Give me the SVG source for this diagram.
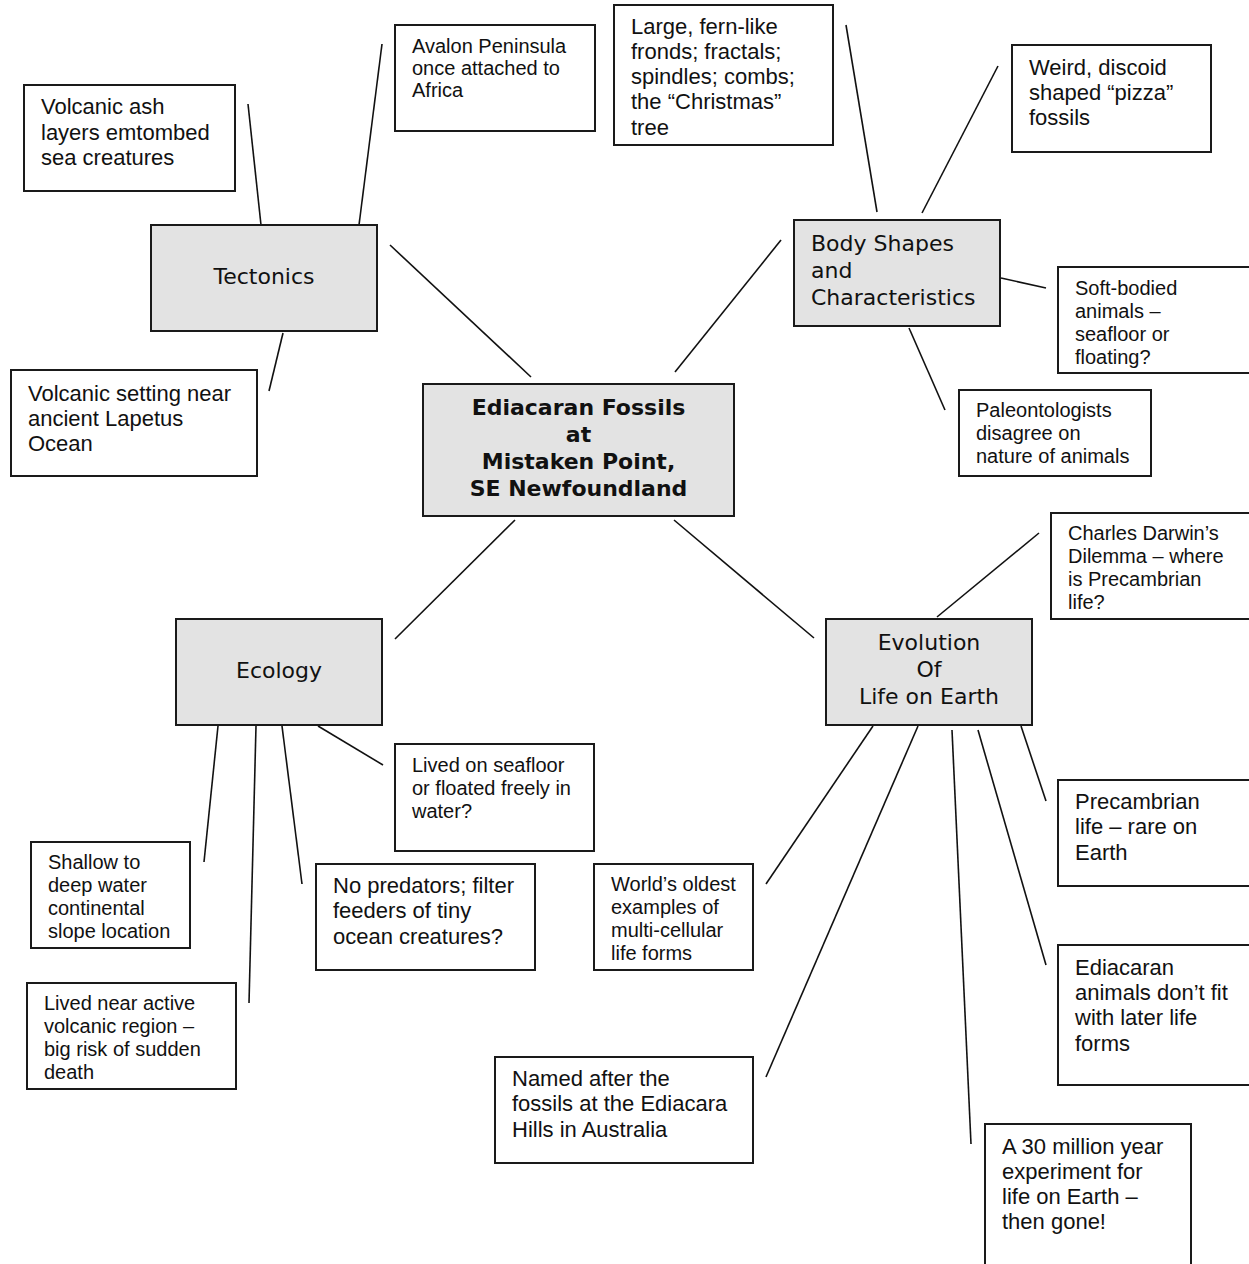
<svg xmlns="http://www.w3.org/2000/svg" width="1249" height="1264" viewBox="0 0 1249 1264">
<style>
.hub{fill:#e3e3e3;stroke:#1a1a1a;stroke-width:2}
.leaf{fill:#fff;stroke:#1a1a1a;stroke-width:2}
.ht{font-family:"DejaVu Sans",Verdana,sans-serif;font-size:22px;fill:#111}
.ct{font-family:"DejaVu Sans",Verdana,sans-serif;font-size:22px;font-weight:bold;fill:#111;text-anchor:middle}
.l20{font-family:"Liberation Sans",Arial,sans-serif;font-size:22px;fill:#111}
.l18{font-family:"Liberation Sans",Arial,sans-serif;font-size:20px;fill:#111}
.c{stroke:#111;stroke-width:1.6;fill:none}
</style>
<rect width="1249" height="1264" fill="#fff"/>
<g id="connectors">
<line class="c" x1="390" y1="245" x2="531" y2="377"/>
<line class="c" x1="781" y1="240" x2="675" y2="372"/>
<line class="c" x1="515" y1="520" x2="395" y2="639"/>
<line class="c" x1="674" y1="520" x2="814" y2="638"/>
<line class="c" x1="248" y1="104" x2="261" y2="225"/>
<line class="c" x1="382" y1="44" x2="359" y2="225"/>
<line class="c" x1="283" y1="333" x2="269" y2="391"/>
<line class="c" x1="846" y1="25" x2="877" y2="212"/>
<line class="c" x1="998" y1="66" x2="922" y2="213"/>
<line class="c" x1="1001" y1="278" x2="1046" y2="288"/>
<line class="c" x1="909" y1="328" x2="945" y2="410"/>
<line class="c" x1="318" y1="726" x2="383" y2="765"/>
<line class="c" x1="218" y1="726" x2="204" y2="862"/>
<line class="c" x1="256" y1="726" x2="249" y2="1003"/>
<line class="c" x1="282" y1="726" x2="302" y2="884"/>
<line class="c" x1="937" y1="617" x2="1039" y2="533"/>
<line class="c" x1="1021" y1="726" x2="1046" y2="801"/>
<line class="c" x1="978" y1="730" x2="1046" y2="965"/>
<line class="c" x1="952" y1="730" x2="971" y2="1144"/>
<line class="c" x1="918" y1="726" x2="766" y2="1077"/>
<line class="c" x1="873" y1="726" x2="766" y2="884"/>
</g>
<g id="center">
<rect class="hub" x="423" y="384" width="311" height="132"/>
<text class="ct"><tspan x="578.5" y="415">Ediacaran Fossils</tspan><tspan x="578.5" y="442">at</tspan><tspan x="578.5" y="469">Mistaken Point,</tspan><tspan x="578.5" y="496">SE Newfoundland</tspan></text>
</g>
<g id="tectonics">
<rect class="hub" x="151" y="225" width="226" height="106"/>
<text class="ht" x="264" y="284" text-anchor="middle">Tectonics</text>
</g>
<g id="body-shapes">
<rect class="hub" x="794" y="220" width="206" height="106"/>
<text class="ht"><tspan x="811" y="251">Body Shapes</tspan><tspan x="811" y="278">and</tspan><tspan x="811" y="305">Characteristics</tspan></text>
</g>
<g id="ecology">
<rect class="hub" x="176" y="619" width="206" height="106"/>
<text class="ht" x="279" y="678" text-anchor="middle">Ecology</text>
</g>
<g id="evolution">
<rect class="hub" x="826" y="619" width="206" height="106"/>
<text class="ht" text-anchor="middle"><tspan x="929" y="650">Evolution</tspan><tspan x="929" y="677">Of</tspan><tspan x="929" y="704">Life on Earth</tspan></text>
</g>
<g id="volcanic-ash">
<rect class="leaf" x="24" y="85" width="211" height="106"/>
<text class="l20"><tspan x="41" y="114">Volcanic ash</tspan><tspan x="41" y="140">layers emtombed</tspan><tspan x="41" y="165">sea creatures</tspan></text>
</g>
<g id="avalon">
<rect class="leaf" x="395" y="25" width="200" height="106"/>
<text class="l18"><tspan x="412" y="53">Avalon Peninsula</tspan><tspan x="412" y="75">once attached to</tspan><tspan x="412" y="97">Africa</tspan></text>
</g>
<g id="volcanic-setting">
<rect class="leaf" x="11" y="370" width="246" height="106"/>
<text class="l20"><tspan x="28" y="401">Volcanic setting near</tspan><tspan x="28" y="426">ancient Lapetus</tspan><tspan x="28" y="451">Ocean</tspan></text>
</g>
<g id="fern-like">
<rect class="leaf" x="614" y="5" width="219" height="140"/>
<text class="l20"><tspan x="631" y="34">Large, fern-like</tspan><tspan x="631" y="59">fronds; fractals;</tspan><tspan x="631" y="84">spindles; combs;</tspan><tspan x="631" y="109">the “Christmas”</tspan><tspan x="631" y="135">tree</tspan></text>
</g>
<g id="discoid">
<rect class="leaf" x="1012" y="45" width="199" height="107"/>
<text class="l20"><tspan x="1029" y="75">Weird, discoid</tspan><tspan x="1029" y="100">shaped “pizza”</tspan><tspan x="1029" y="125">fossils</tspan></text>
</g>
<g id="soft-bodied">
<rect class="leaf" x="1058" y="267" width="195" height="106"/>
<text class="l18"><tspan x="1075" y="295">Soft-bodied</tspan><tspan x="1075" y="318">animals –</tspan><tspan x="1075" y="341">seafloor or</tspan><tspan x="1075" y="364">floating?</tspan></text>
</g>
<g id="paleontologists">
<rect class="leaf" x="959" y="390" width="192" height="86"/>
<text class="l18"><tspan x="976" y="417">Paleontologists</tspan><tspan x="976" y="440">disagree on</tspan><tspan x="976" y="463">nature of animals</tspan></text>
</g>
<g id="darwin">
<rect class="leaf" x="1051" y="513" width="202" height="106"/>
<text class="l18"><tspan x="1068" y="540">Charles Darwin’s</tspan><tspan x="1068" y="563">Dilemma – where</tspan><tspan x="1068" y="586">is Precambrian</tspan><tspan x="1068" y="609">life?</tspan></text>
</g>
<g id="seafloor">
<rect class="leaf" x="395" y="744" width="199" height="107"/>
<text class="l18"><tspan x="412" y="772">Lived on seafloor</tspan><tspan x="412" y="795">or floated freely in</tspan><tspan x="412" y="818">water?</tspan></text>
</g>
<g id="shallow">
<rect class="leaf" x="31" y="842" width="159" height="106"/>
<text class="l18"><tspan x="48" y="869">Shallow to</tspan><tspan x="48" y="892">deep water</tspan><tspan x="48" y="915">continental</tspan><tspan x="48" y="938">slope location</tspan></text>
</g>
<g id="predators">
<rect class="leaf" x="316" y="864" width="219" height="106"/>
<text class="l20"><tspan x="333" y="893">No predators; filter</tspan><tspan x="333" y="918">feeders of tiny</tspan><tspan x="333" y="944">ocean creatures?</tspan></text>
</g>
<g id="oldest">
<rect class="leaf" x="594" y="864" width="159" height="106"/>
<text class="l18"><tspan x="611" y="891">World’s oldest</tspan><tspan x="611" y="914">examples of</tspan><tspan x="611" y="937">multi-cellular</tspan><tspan x="611" y="960">life forms</tspan></text>
</g>
<g id="precambrian">
<rect class="leaf" x="1058" y="780" width="195" height="106"/>
<text class="l20"><tspan x="1075" y="809">Precambrian</tspan><tspan x="1075" y="834">life – rare on</tspan><tspan x="1075" y="860">Earth</tspan></text>
</g>
<g id="volcanic-region">
<rect class="leaf" x="27" y="983" width="209" height="106"/>
<text class="l18"><tspan x="44" y="1010">Lived near active</tspan><tspan x="44" y="1033">volcanic region –</tspan><tspan x="44" y="1056">big risk of sudden</tspan><tspan x="44" y="1079">death</tspan></text>
</g>
<g id="dont-fit">
<rect class="leaf" x="1058" y="945" width="195" height="140"/>
<text class="l20"><tspan x="1075" y="975">Ediacaran</tspan><tspan x="1075" y="1000">animals don’t fit</tspan><tspan x="1075" y="1025">with later life</tspan><tspan x="1075" y="1051">forms</tspan></text>
</g>
<g id="named-after">
<rect class="leaf" x="495" y="1057" width="258" height="106"/>
<text class="l20"><tspan x="512" y="1086">Named after the</tspan><tspan x="512" y="1111">fossils at the Ediacara</tspan><tspan x="512" y="1137">Hills in Australia</tspan></text>
</g>
<g id="thirty-million">
<rect class="leaf" x="985" y="1124" width="206" height="150"/>
<text class="l20"><tspan x="1002" y="1154">A 30 million year</tspan><tspan x="1002" y="1179">experiment for</tspan><tspan x="1002" y="1204">life on Earth –</tspan><tspan x="1002" y="1229">then gone!</tspan></text>
</g>
</svg>
